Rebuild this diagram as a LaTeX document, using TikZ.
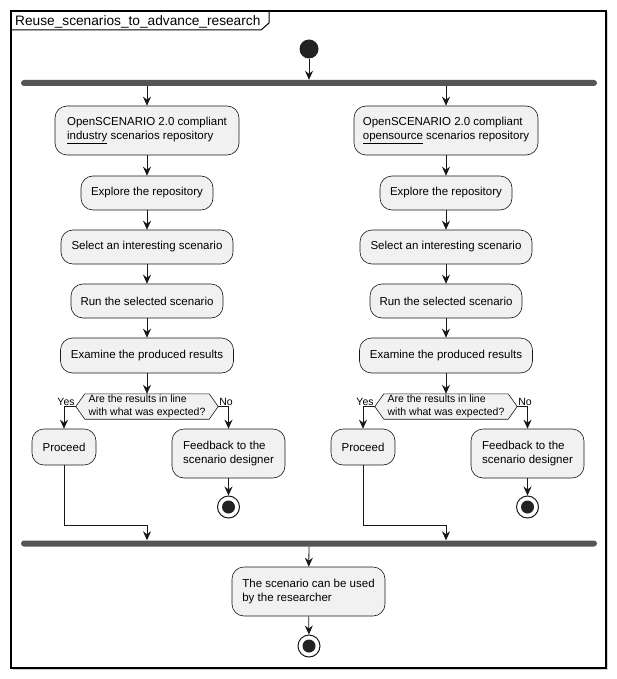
\documentclass[tikz,border=0pt]{standalone}
\usepackage{fontspec}
\setmainfont{Liberation Sans}
\usetikzlibrary{arrows.meta}
\pgfdeclarelayer{background}
\pgfsetlayers{background,main}
\definecolor{boxfill}{HTML}{F1F1F1}
\definecolor{boxline}{HTML}{181818}
\definecolor{barfill}{HTML}{555555}
\definecolor{dotc}{HTML}{222222}
\begin{document}
\begin{tikzpicture}[x=1pt,y=-1pt,
  act/.style={draw=boxline, line width=0.6pt, fill=boxfill, rounded corners=12pt,
    align=left, inner sep=0pt, font=\fontsize{11.5}{14}\selectfont},
  dec/.style={minimum width=142pt, minimum height=25pt, inner sep=0pt, align=left,
    font=\fontsize{10.5}{12.5}\selectfont},
  decshape/.style={draw=boxline, line width=0.6pt, fill=boxfill},
  lbl/.style={inner sep=1pt, font=\fontsize{10.5}{12.5}\selectfont},
  arr/.style={draw=boxline, line width=0.8pt, -{Stealth[length=9pt,width=8pt,inset=3pt]}},
  bar/.style={fill=barfill, rounded corners=3pt, minimum height=6pt, minimum width=576pt, inner sep=0pt},
  startc/.style={circle, fill=dotc, minimum size=19pt, inner sep=0pt},
  endc/.style={circle, draw=boxline, line width=1pt, fill=white, minimum size=22pt, inner sep=0pt,
    path picture={\fill[dotc] (path picture bounding box.center) circle (6.5pt);}}
]
\useasboundingbox (0,0) rectangle (616,679);
\begin{pgfonlayer}{background}
  \fill[white] (0,0) rectangle (616,679);
  \draw[gray!35, line width=1pt] (13,13) rectangle (607.5,669.5);
  \draw[black, line width=1.4pt, fill=white] (11,11) rectangle (606,668);
  \draw[black, line width=1pt] (11,30) -- (261,30) -- (269,23) -- (269,11);
\end{pgfonlayer}
\node[anchor=base west, inner sep=0pt, font=\fontsize{13.7}{16}\selectfont] (title) at (15,26)
  {Reuse\_scenarios\_to\_advance\_research};

\node[startc] (start) at (309,49) {};
\node[bar] (fork) at (309,83) {};
\node[bar] (join) at (309,543.5) {};
\draw[arr] (start) -- (start |- fork.north);

\foreach \p/\cx/\w in {L/147/industry, R/446/opensource}{
  \node[act, minimum width=184pt, minimum height=49pt] (\p1) at (\cx,130.5)
    {OpenSCENARIO 2.0 compliant\\\underline{\w} scenarios repository};
  \node[act, minimum width=132pt, minimum height=34pt] (\p2) at (\cx,193) {Explore the repository};
  \node[act, minimum width=172pt, minimum height=34pt] (\p3) at (\cx,247) {Select an interesting scenario};
  \node[act, minimum width=152pt, minimum height=34pt] (\p4) at (\cx,301) {Run the selected scenario};
  \node[act, minimum width=173pt, minimum height=35pt] (\p5) at (\cx,355.5) {Examine the produced results};
  \node[dec] (\p6) at (\cx,406.5) {Are the results in line\\with what was expected?};
  \begin{pgfonlayer}{background}
    \path[decshape] (\p6.west) -- ([xshift=9pt]\p6.north west) -- ([xshift=-9pt]\p6.north east)
      -- (\p6.east) -- ([xshift=-9pt]\p6.south east) -- ([xshift=9pt]\p6.south west) -- cycle;
  \end{pgfonlayer}
  \node[lbl, anchor=south east] (\p y) at (\p6.west) {Yes};
  \node[lbl, anchor=south west] (\p n) at (\p6.east) {No};
  \node[act, minimum width=64pt, minimum height=36pt] (\p7) at (\cx-83,447) {Proceed};
  \node[act, minimum width=113pt, minimum height=49pt] (\p8) at (\cx+81.5,453.5) {Feedback to the\\scenario designer};
  \node[endc] (\p9) at (\cx+81.5,507) {};
  \coordinate (\p c) at (\cx,525);

  \draw[arr] (\p1 |- fork.south) -- (\p1);
  \draw[arr] (\p1) -- (\p2);
  \draw[arr] (\p2) -- (\p3);
  \draw[arr] (\p3) -- (\p4);
  \draw[arr] (\p4) -- (\p5);
  \draw[arr] (\p5) -- (\p6);
  \draw[arr] (\p6.west) -| (\p7.north);
  \draw[arr] (\p6.east) -| (\p8.north);
  \draw[arr] (\p8) -- (\p9);
  \draw[arr] (\p7.south) |- (\p c) -- (\p c |- join.north);
}

\node[act, minimum width=153pt, minimum height=49pt] (final) at (308.5,591.5)
  {The scenario can be used\\by the researcher};
\node[endc] (end) at (309,646) {};
\draw[arr] (join) -- (final);
\draw[arr] (final) -- (end);
\end{tikzpicture}
\end{document}
